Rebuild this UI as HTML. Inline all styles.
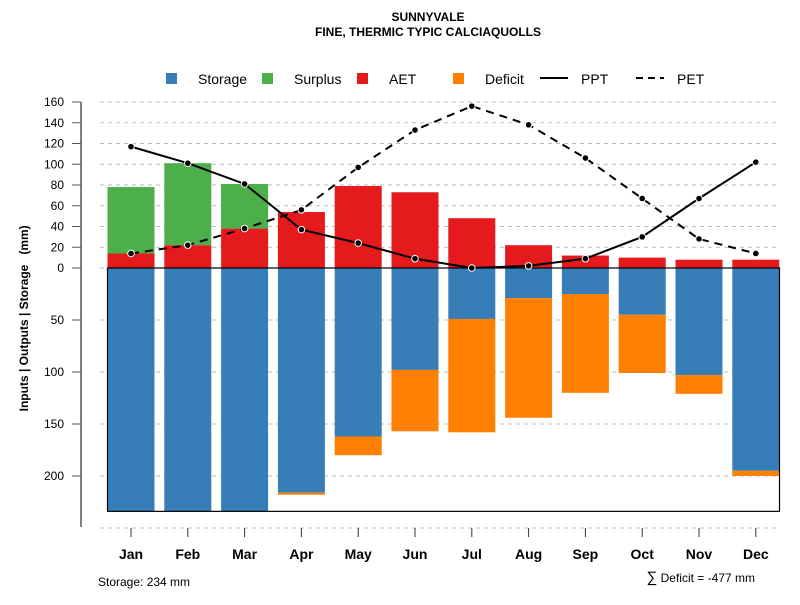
<!DOCTYPE html>
<html><head><meta charset="utf-8"><style>
body{margin:0;background:#fff;font-family:"Liberation Sans",sans-serif}
svg text{font-family:"Liberation Sans",sans-serif}
</style></head><body>
<svg id="c" width="800" height="600" xmlns="http://www.w3.org/2000/svg">
<text x="428" y="21" text-anchor="middle" font-size="12" font-weight="bold">SUNNYVALE</text>
<text x="428" y="36" text-anchor="middle" font-size="12" font-weight="bold">FINE, THERMIC TYPIC CALCIAQUOLLS</text>
<g id="grid"></g><g id="bars"></g><g id="lines"></g><g id="axes"></g>
<g font-size="14">
<rect x="166" y="73" width="11" height="11" fill="#377eb8"/><text x="198" y="84">Storage</text>
<rect x="262" y="73" width="11" height="11" fill="#4daf4a"/><text x="294" y="84">Surplus</text>
<rect x="357" y="73" width="11" height="11" fill="#e41a1c"/><text x="389" y="84">AET</text>
<rect x="453" y="73" width="11" height="11" fill="#ff7f00"/><text x="485" y="84">Deficit</text>
<line x1="540" y1="78" x2="568" y2="78" stroke="#000" stroke-width="2"/><text x="581" y="84">PPT</text>
<line x1="636" y1="78" x2="664" y2="78" stroke="#000" stroke-width="2" stroke-dasharray="7,5"/><text x="677" y="84">PET</text>
</g>
<text transform="translate(28,338) rotate(-90)" text-anchor="middle" font-size="12" font-weight="bold">Inputs | Outputs | Storage</text>
<text transform="translate(28,240) rotate(-90)" text-anchor="middle" font-size="12" font-weight="bold">(mm)</text>
<text x="98" y="586" font-size="12">Storage: 234 mm</text>
<text x="755" y="582" text-anchor="end" font-size="12"><tspan font-size="15">∑</tspan> Deficit = -477 mm</text>
</svg>
<script>
const months=["Jan","Feb","Mar","Apr","May","Jun","Jul","Aug","Sep","Oct","Nov","Dec"];
const ppt=[117,101,81,37,24,9,0,2,9,30,67,102];
const pet=[14,22,38,56,97,133,156,138,106,67,28,14];
const aet=[14,22,38,54,79,73,48,22,12,10,8,8];
const surplus=[64,79,43,0,0,0,0,0,0,0,0,0];
const storage=[234,234,234,216,162,98,49,29,25,45,103,195];
const deficit=[0,0,0,2,18,59,109,115,95,56,18,5];
const upTicks=[0,20,40,60,80,100,120,140,160];
const downTicks=[50,100,150,200,250];
const NS="http://www.w3.org/2000/svg";
const Y0=268,K=1.0375;
function yUp(v){return Y0-v*K;}
function yDn(v){return Y0+v*1.04;}
function xC(i){return 131+i*56.8;}
const BW=47;
function mk(p,tag,a){const e=document.createElementNS(NS,tag);for(const k in a)e.setAttribute(k,a[k]);document.getElementById(p).appendChild(e);return e;}
upTicks.forEach(t=>{
 let y=yUp(t);
 let g=mk('grid','line',{x1:100,x2:780,y1:y,y2:y,stroke:'#bbb','stroke-dasharray':'4,4'});
 
 
 let tk=mk('axes','line',{x1:72,x2:81,y1:y,y2:y,stroke:'#555'});
 
 
 let tx=mk('axes','text',{x:64,y:y+4,'text-anchor':'end','font-size':12});tx.textContent=t;
 
 
});
downTicks.forEach(t=>{
 let y=yDn(t);
 let g=mk('grid','line',{x1:100,x2:780,y1:y,y2:y,stroke:'#bbb','stroke-dasharray':'4,4'});
 
 
 if(t<250){
 let tk=mk('axes','line',{x1:72,x2:81,y1:y,y2:y,stroke:'#555'});
 
 
 let tx=mk('axes','text',{x:64,y:y+4,'text-anchor':'end','font-size':12});tx.textContent=t;
 
 }
});
months.forEach((m,i)=>{
 const x=xC(i)-BW/2;
 let r;
 r=mk('bars','rect',{x:x,y:yUp(aet[i]),width:BW,height:aet[i]*K,fill:'#e41a1c'});
 
 
 if(surplus[i]>0){r=mk('bars','rect',{x:x,y:yUp(aet[i]+surplus[i]),width:BW,height:surplus[i]*K,fill:'#4daf4a'});
 
 }
 r=mk('bars','rect',{x:x,y:Y0,width:BW,height:yDn(storage[i])-Y0,fill:'#377eb8'});
 
 
 if(deficit[i]>0){r=mk('bars','rect',{x:x,y:yDn(storage[i]),width:BW,height:yDn(storage[i]+deficit[i])-yDn(storage[i]),fill:'#ff7f00'});
 
 }
 let tk=mk('axes','line',{x1:xC(i),x2:xC(i),y1:528,y2:537,stroke:'#333'});
 
 
 let tx=mk('axes','text',{x:xC(i),y:559,'text-anchor':'middle','font-size':14,'font-weight':'bold'});tx.textContent=m;
 
 
});
let box=mk('bars','rect',{x:107.5,y:Y0,width:672,height:yDn(234)-Y0,fill:'none',stroke:'#000','stroke-width':1.2});


let ax=mk('axes','line',{x1:81,x2:81,y1:102,y2:527,stroke:'#555','stroke-width':1.5});


function series(vals,dash,name){
 const pts=vals.map((v,i)=>xC(i)+','+yUp(v)).join(' ');
 let l=mk('lines','polyline',{points:pts,fill:'none',stroke:'#000','stroke-width':2,'stroke-dasharray':dash});
 
 
 vals.forEach((v,i)=>{let c=mk('lines','circle',{cx:xC(i),cy:yUp(v),r:3.3,fill:'#000',stroke:'#fff','stroke-width':1});
 
 });
}
series(ppt,'none','ppt');
series(pet,'8,6','pet');
</script>
</body></html>
